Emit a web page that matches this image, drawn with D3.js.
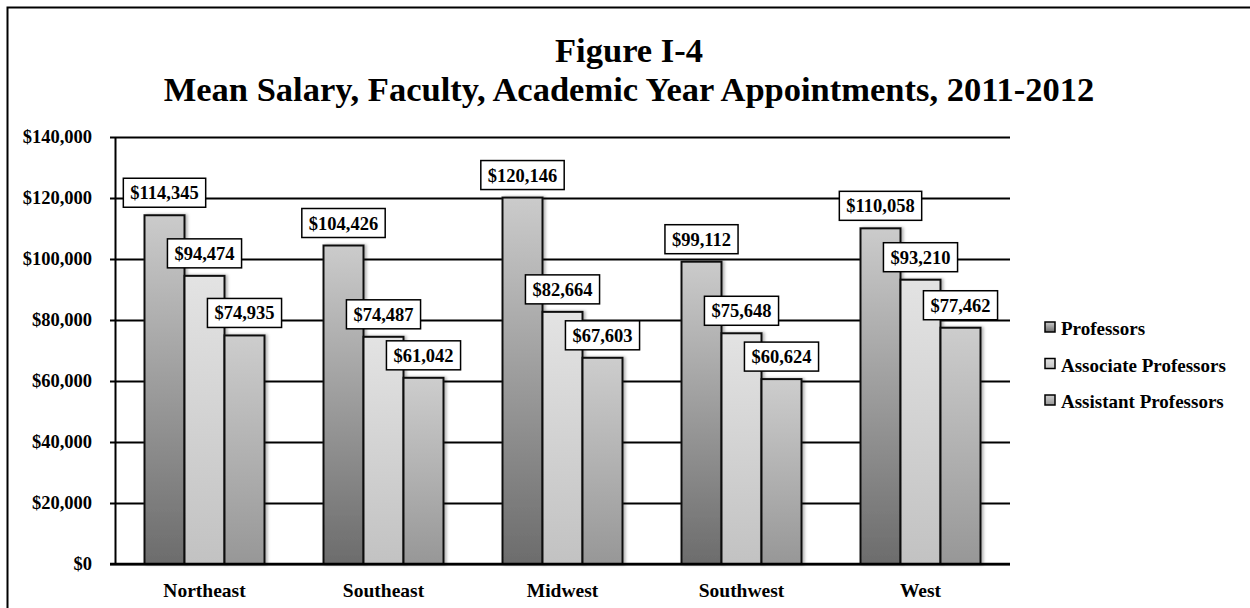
<!DOCTYPE html>
<html>
<head>
<meta charset="utf-8">
<script src="https://cdn.jsdelivr.net/npm/d3@7"></script>
<style>
  body { margin: 0; background: #fff; }
  text { font-family: "Liberation Serif", "Times New Roman", serif; font-weight: bold; fill: #000; }
</style>
</head>
<body>
<script>
var w = 1250;
var h = 608;

// data
var regions = ["Northeast", "Southeast", "Midwest", "Southwest", "West"];
var seriesNames = ["Professors", "Associate Professors", "Assistant Professors"];
var professors = [114345, 104426, 120146, 99112, 110058];
var associate = [94474, 74487, 82664, 75648, 93210];
var assistant = [74935, 61042, 67603, 60624, 77462];
var yTicks = [0, 20000, 40000, 60000, 80000, 100000, 120000, 140000];

var seriesValues = [professors, associate, assistant];
var gradStops = [["#cbcbcb", "#6c6c6c"], ["#e3e3e3", "#c2c2c2"], ["#cdcdcd", "#979797"]];

var plotLeft = 115, plotRight = 1010, plotTop = 137, plotBottom = 564;

drawChart();

function drawChart() {
    var svg = d3.select("body").append("svg")
        .attr("width", w)
        .attr("height", h);

    var defs = svg.append("defs");
    gradStops.forEach(function (s, i) {
        var g = defs.append("linearGradient")
            .attr("id", "grad" + i)
            .attr("x1", 0).attr("y1", 0).attr("x2", 0).attr("y2", 1);
        g.append("stop").attr("offset", "0%").attr("stop-color", s[0]);
        g.append("stop").attr("offset", "100%").attr("stop-color", s[1]);
    });
    var shadow = defs.append("filter").attr("id", "shadow")
        .attr("x", "-20%").attr("y", "-5%").attr("width", "150%").attr("height", "110%");
    shadow.append("feDropShadow")
        .attr("dx", 2).attr("dy", 0).attr("stdDeviation", 1.5)
        .attr("flood-color", "#000").attr("flood-opacity", 0.3);

    // outer frame
    svg.append("rect")
        .attr("x", 7.5).attr("y", 7.5)
        .attr("width", 1300).attr("height", 700)
        .attr("fill", "none")
        .attr("stroke", "#000")
        .attr("stroke-width", 2);

    // title
    svg.append("text")
        .attr("x", 629).attr("y", 62)
        .attr("text-anchor", "middle")
        .attr("font-size", 34.5)
        .text("Figure I-4");
    svg.append("text")
        .attr("x", 629).attr("y", 101)
        .attr("text-anchor", "middle")
        .attr("font-size", 34.5)
        .text("Mean Salary, Faculty, Academic Year Appointments, 2011-2012");

    // scales
    var x = d3.scaleBand().domain(regions).range([plotLeft, plotRight]);
    var xs = d3.scaleBand().domain(seriesNames).range([29.5, 149.5]);
    var y = d3.scaleLinear().domain([0, 140000]).range([plotBottom, plotTop]);

    // gridlines
    var grid = svg.append("g")
        .attr("transform", "translate(" + plotLeft + ",0)")
        .call(d3.axisLeft(y).tickValues(yTicks).tickSize(-(plotRight - plotLeft)).tickFormat(""));
    grid.select(".domain").remove();
    grid.selectAll("line").attr("stroke", "#000").attr("stroke-width", 2);

    // y axis
    var yAxis = svg.append("g")
        .attr("transform", "translate(" + plotLeft + ",0)")
        .call(d3.axisLeft(y).tickValues(yTicks).tickSize(5).tickSizeOuter(0)
            .tickPadding(18).tickFormat(d3.format("$,")));
    yAxis.select(".domain").attr("stroke", "#000").attr("stroke-width", 2);
    yAxis.selectAll("line").attr("stroke", "#000").attr("stroke-width", 2);
    yAxis.selectAll("text").attr("font-size", 18.5).attr("font-family", null);

    // bars
    var groups = svg.selectAll(".region")
        .data(regions)
        .enter().append("g")
        .attr("class", "region")
        .attr("transform", function (d) { return "translate(" + x(d) + ",0)"; });

    seriesNames.forEach(function (name, si) {
        groups.append("rect")
            .attr("x", xs(name))
            .attr("y", function (d, i) { return y(seriesValues[si][i]); })
            .attr("width", xs.bandwidth())
            .attr("height", function (d, i) { return plotBottom - y(seriesValues[si][i]); })
            .attr("fill", "url(#grad" + si + ")")
            .attr("stroke", "#111")
            .attr("stroke-width", 2)
            .attr("filter", "url(#shadow)");
    });

    // baseline
    svg.append("line")
        .attr("x1", plotLeft - 5).attr("x2", plotRight)
        .attr("y1", plotBottom).attr("y2", plotBottom)
        .attr("stroke", "#000").attr("stroke-width", 2.5);

    // value labels
    seriesNames.forEach(function (name, si) {
        groups.each(function (d, i) {
            var g = d3.select(this);
            var cx = xs(name) + xs.bandwidth() / 2;
            var by = y(seriesValues[si][i]) - 8;
            var lbl = g.append("g");
            var t = lbl.append("text")
                .attr("x", cx)
                .attr("y", by - 8)
                .attr("text-anchor", "middle")
                .attr("font-size", 18.5)
                .text(d3.format("$,")(seriesValues[si][i]));
            var bw = t.node().getComputedTextLength() + 14;
            lbl.insert("rect", "text")
                .attr("x", cx - bw / 2)
                .attr("y", by - 29)
                .attr("width", bw)
                .attr("height", 29)
                .attr("fill", "#fff")
                .attr("stroke", "#000")
                .attr("stroke-width", 1.5);
        });
    });

    // category labels
    svg.selectAll(".cat")
        .data(regions)
        .enter().append("text")
        .attr("class", "cat")
        .attr("x", function (d) { return x(d) + x.bandwidth() / 2; })
        .attr("y", 597)
        .attr("text-anchor", "middle")
        .attr("font-size", 19.5)
        .text(function (d) { return d; });

    // legend
    var legend = svg.selectAll(".legend")
        .data(seriesNames)
        .enter().append("g")
        .attr("class", "legend")
        .attr("transform", function (d, i) { return "translate(1045," + (335 + i * 36.5) + ")"; });
    legend.append("rect")
        .attr("x", 0).attr("y", -13)
        .attr("width", 10).attr("height", 10)
        .attr("fill", function (d, i) { return "url(#grad" + i + ")"; })
        .attr("stroke", "#000")
        .attr("stroke-width", 1.5);
    legend.append("text")
        .attr("x", 16).attr("y", 0)
        .attr("font-size", 19)
        .text(function (d) { return d; });
}
</script>
</body>
</html>
